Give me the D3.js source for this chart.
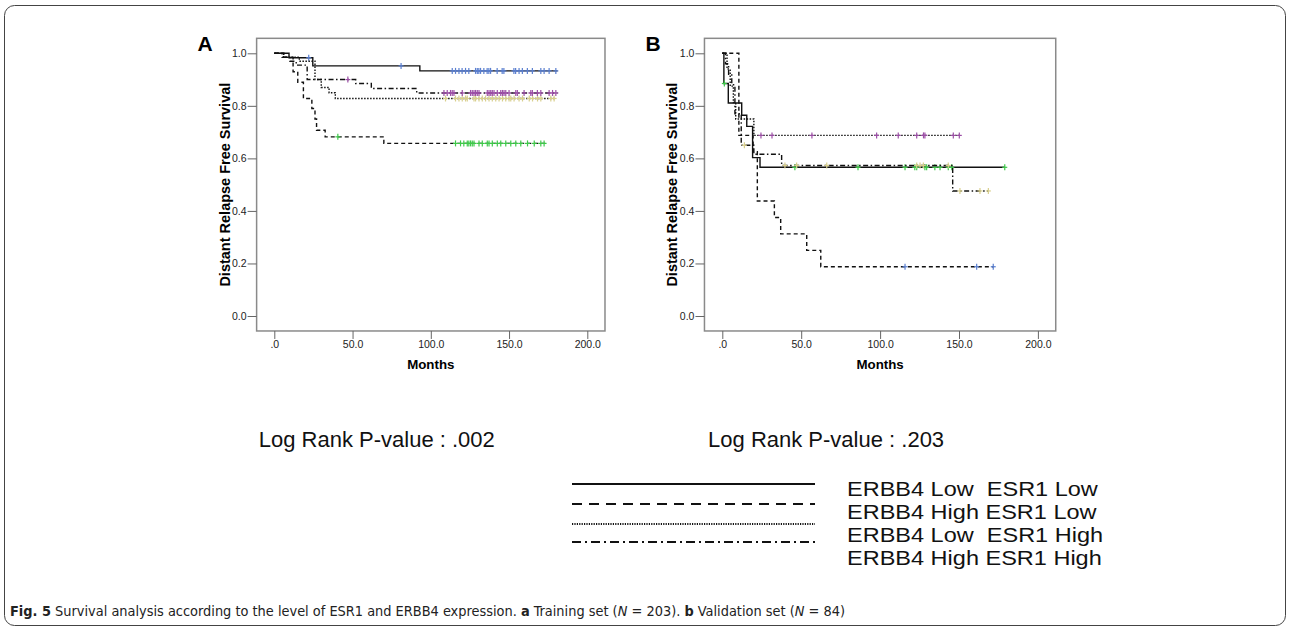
<!DOCTYPE html>
<html lang="en">
<head>
<meta charset="UTF-8">
<title>Survival curves</title>
<script src="https://d3js.org/d3.v7.min.js"></script>
<style>
    html, body {
        margin: 0;
        background: white;
    }
    svg text {
        font-family: "Liberation Sans", Arial, sans-serif;
    }
    .tick text {
        font-size: 10.5px;
        fill: #222;
    }
    .tick line {
        stroke: #666;
    }
</style>
</head>
<body>
<svg id="chart" width="1290" height="630"></svg>
<script>

const groups = ["ERBB4 Low  ESR1 Low", "ERBB4 High ESR1 Low", "ERBB4 Low  ESR1 High", "ERBB4 High ESR1 High"];
const xTicks = [0, 50, 100, 150, 200];
const xTickLabels = [".0", "50.0", "100.0", "150.0", "200.0"];
const yTicks = [0, 0.2, 0.4, 0.6, 0.8, 1.0];
const yTickLabels = ["0.0", "0.2", "0.4", "0.6", "0.8", "1.0"];
const pValues = [".002", ".203"];

// panel A, training set
const aLowLowT = [0, 9.4, 24.6, 93, 181];
const aLowLowS = [1, 0.983, 0.952, 0.933, 0.933];
const aLowLowCens = [22, 81, 113.7, 115.8, 118, 120, 122.2, 124.3, 128.6, 129.7, 130.7, 131.8, 133.9, 136, 137.1, 138.2, 142.4, 145.6, 146.7, 153.1, 154.2, 156.4, 158.5, 161.7, 164.9, 170.3, 172.4, 175.6, 179.9];

const aHighLowT = [0, 6, 12, 15, 18.6, 24, 26, 27, 32.5, 70, 173.5];
const aHighLowS = [1, 0.985, 0.93, 0.89, 0.828, 0.79, 0.75, 0.707, 0.682, 0.657, 0.657];
const aHighLowCens = [40.6, 115.8, 119, 121.1, 123.3, 124.3, 125.4, 126.5, 127.6, 130.8, 132.9, 136.1, 137.2, 139.3, 142.5, 144.7, 147.9, 151.1, 154.3, 157.5, 161.8, 166.1, 170.3, 172.4];

const aLowHighT = [0, 6, 16, 26, 30, 35, 39, 180];
const aLowHighS = [1, 0.985, 0.97, 0.9, 0.87, 0.85, 0.828, 0.828];
const aLowHighCens = [109.4, 115.8, 118, 120.1, 122.2, 123.3, 127.6, 128.6, 130.8, 132.9, 135, 137.2, 139.3, 141.5, 143.6, 145.8, 147.9, 150, 151.1, 153.2, 156.4, 158.6, 162.9, 165, 168.2, 170.3, 176.7, 178.8];

const aHighHighT = [0, 5, 10, 14, 21, 52, 62, 91, 181];
const aHighHighS = [1, 0.985, 0.97, 0.955, 0.9, 0.885, 0.866, 0.849, 0.849];
const aHighHighCens = [47, 108.4, 110.5, 112.6, 113.7, 114.8, 120.1, 125.4, 126.5, 127.6, 128.6, 129.7, 130.8, 136.1, 137.2, 138.3, 139.3, 140.4, 142.5, 144.7, 145.8, 146.8, 147.9, 150, 154.3, 155.3, 159.6, 163.9, 164.9, 168.1, 170.3, 175.6, 177.8, 179.9];

// panel B, validation set
const bLowLowT = [0, 1, 3.8, 12.3, 15.5, 19.2, 23.9, 179];
const bLowLowS = [1, 0.885, 0.811, 0.764, 0.722, 0.603, 0.566, 0.566];
const bLowLowCens = [1.3, 46, 86, 115.8, 122, 123.2, 128.4, 129.5, 134.7, 138, 143.2, 145.4, 179];

const bHighLowT = [0, 10.5, 19.5, 22.2, 33, 37, 53.5, 62.4, 172];
const bHighLowS = [1, 0.6875, 0.625, 0.4375, 0.375, 0.3125, 0.25, 0.1875, 0.1875];
const bHighLowCens = [115.8, 161.2, 171.7];

const bLowHighT = [0, 3, 5, 7, 8.5, 20, 150.6];
const bLowHighS = [1, 0.94, 0.875, 0.8125, 0.75, 0.6875, 0.6875];
const bLowHighCens = [24.5, 31.5, 56.8, 97.8, 111.5, 123.2, 127.5, 128.4, 146.4, 150.2];

const bHighHighT = [0, 2, 4, 6, 8, 12, 20, 37.6, 146, 168.6];
const bHighHighS = [1, 0.96, 0.92, 0.88, 0.77, 0.65, 0.616, 0.573, 0.476, 0.476];
const bHighHighCens = [14, 39.7, 47.1, 66.2, 123.2, 125.3, 127.4, 143.2, 150.6, 163.3, 168.6];

const dashes = [null, "4,3", "1.5,1.5", "5,2.5,1.5,2.5"];
const legendDashes = [null, "10,7", "1.2,1.2", "9,4,2,4"];

const panels = [
    {
        label: "A", left: 274.3, right: 587.3,
        curves: [
            {t: aLowLowT, s: aLowLowS, cens: aLowLowCens, color: "#5a7fd0"},
            {t: aHighLowT, s: aHighLowS, cens: aHighLowCens, color: "#3fc94a"},
            {t: aLowHighT, s: aLowHighS, cens: aLowHighCens, color: "#d8cf8c"},
            {t: aHighHighT, s: aHighHighS, cens: aHighHighCens, color: "#9c4fa6"}
        ]
    },
    {
        label: "B", left: 722.3, right: 1037.9,
        curves: [
            {t: bLowLowT, s: bLowLowS, cens: bLowLowCens, color: "#3fc94a"},
            {t: bHighLowT, s: bHighLowS, cens: bHighLowCens, color: "#5a7fd0"},
            {t: bLowHighT, s: bLowHighS, cens: bLowHighCens, color: "#9c4fa6"},
            {t: bHighHighT, s: bHighHighS, cens: bHighHighCens, color: "#d8cf8c"}
        ]
    }
];

const svg = d3.select("#chart");

svg.append("rect")
    .attr("x", 4.5)
    .attr("y", 5.5)
    .attr("width", 1281)
    .attr("height", 620)
    .attr("rx", 10)
    .attr("fill", "none")
    .attr("stroke", "#444")
    .attr("stroke-width", 1);

const stepValue = (t, s, time) => {
    let v = s[0];
    t.forEach((ti, i) => {
        if (ti <= time) v = s[i];
    });
    return v;
};

panels.forEach((p, pi) => {

    const x = d3.scaleLinear().domain([0, 200]).range([p.left, p.right]);
    const y = d3.scaleLinear().domain([0, 1]).range([316, 53.3]);

    const fx0 = x(-11.3), fx1 = x(211.3);
    const fy0 = y(1.057), fy1 = y(-0.057);

    const g = svg.append("g");

    g.append("rect")
        .attr("x", fx0)
        .attr("y", fy0)
        .attr("width", fx1 - fx0)
        .attr("height", fy1 - fy0)
        .attr("fill", "none")
        .attr("stroke", "#8a8a8a")
        .attr("stroke-width", 1.5);

    g.append("g")
        .attr("transform", `translate(${fx0},0)`)
        .call(d3.axisLeft(y).tickValues(yTicks).tickFormat((d, i) => yTickLabels[i]).tickSize(9).tickPadding(1))
        .call(a => a.select(".domain").remove());

    g.append("g")
        .attr("transform", `translate(0,${fy1})`)
        .call(d3.axisBottom(x).tickValues(xTicks).tickFormat((d, i) => xTickLabels[i]).tickSize(8).tickPadding(2))
        .call(a => a.select(".domain").remove());

    g.selectAll("g").attr("font-family", "Liberation Sans, Arial, sans-serif");

    g.append("text")
        .attr("x", (fx0 + fx1) / 2)
        .attr("y", 369)
        .attr("text-anchor", "middle")
        .attr("font-size", "13.3px")
        .attr("font-weight", "bold")
        .text("Months");

    g.append("text")
        .attr("transform", `translate(${fx0 - 27},${(fy0 + fy1) / 2}) rotate(-90)`)
        .attr("text-anchor", "middle")
        .attr("font-size", "14.5px")
        .attr("font-weight", "bold")
        .text("Distant Relapse Free Survival");

    g.append("text")
        .attr("x", fx0 - 59)
        .attr("y", 51)
        .attr("font-size", "21px")
        .attr("font-weight", "bold")
        .text(p.label);

    const line = d3.line()
        .x(d => x(d[0]))
        .y(d => y(d[1]))
        .curve(d3.curveStepAfter);

    p.curves.forEach((c, ci) => {
        g.append("path")
            .datum(c.t.map((t, i) => [t, c.s[i]]))
            .attr("d", line)
            .attr("fill", "none")
            .attr("stroke", "#111")
            .attr("stroke-width", 1.4)
            .attr("stroke-dasharray", dashes[ci]);

        const marks = g.append("g")
            .selectAll("g")
            .data(c.cens)
            .enter().append("g")
            .attr("transform", d => `translate(${x(d)},${y(stepValue(c.t, c.s, d))})`)
            .attr("stroke", c.color)
            .attr("stroke-width", 1.2);

        marks.append("line").attr("x1", -2.5).attr("x2", 2.5);
        marks.append("line").attr("y1", -3).attr("y2", 3);
    });

    svg.append("text")
        .attr("x", (fx0 + fx1) / 2 - 54)
        .attr("y", 447)
        .attr("text-anchor", "middle")
        .attr("font-size", "22px")
        .attr("fill", "#111")
        .text("Log Rank P-value : " + pValues[pi]);
});

const legendLineY = [484, 504, 524, 542];
const legendTextY = [496, 519, 542, 565];

legendLineY.forEach((ly, i) => {
    svg.append("line")
        .attr("x1", 572)
        .attr("x2", 815)
        .attr("y1", ly)
        .attr("y2", ly)
        .attr("stroke", "#111")
        .attr("stroke-width", i === 0 ? 2 : 1.8)
        .attr("stroke-dasharray", legendDashes[i]);
});

groups.forEach((name, i) => {
    svg.append("text")
        .attr("transform", `translate(847,${legendTextY[i]}) scale(1.12,1)`)
        .attr("font-size", "21px")
        .attr("fill", "#111")
        .style("white-space", "pre")
        .text(name);
});

const caption = svg.append("text")
    .attr("x", 10)
    .attr("y", 616)
    .attr("font-size", "14.4px")
    .attr("fill", "#222")
    .style("font-family", "'Liberation Sans Narrow', 'DejaVu Sans Condensed', sans-serif");

caption.append("tspan").attr("font-weight", "bold").text("Fig. 5");
caption.append("tspan").text(" Survival analysis according to the level of ESR1 and ERBB4 expression. ");
caption.append("tspan").attr("font-weight", "bold").text("a");
caption.append("tspan").text(" Training set (");
caption.append("tspan").attr("font-style", "italic").text("N");
caption.append("tspan").text(" = 203). ");
caption.append("tspan").attr("font-weight", "bold").text("b");
caption.append("tspan").text(" Validation set (");
caption.append("tspan").attr("font-style", "italic").text("N");
caption.append("tspan").text(" = 84)");

</script>
</body>
</html>
